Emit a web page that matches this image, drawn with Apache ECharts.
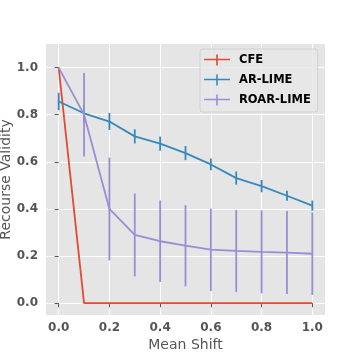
<!DOCTYPE html>
<html><head><meta charset="utf-8">
<script src="https://cdn.jsdelivr.net/npm/echarts@6/dist/echarts.min.js"></script>
<style>html,body{margin:0;padding:0;background:#fff}#c{width:360px;height:360px}</style>
</head><body><div id="c"></div>
<script>
const meanShift = [0, 0.1, 0.2, 0.3, 0.4, 0.5, 0.6, 0.7, 0.8, 0.9, 1.0];
const cfe = [1.0, 0, 0, 0, 0, 0, 0, 0, 0, 0, 0];
const arLime = [0.856, 0.806, 0.771, 0.708, 0.677, 0.637, 0.589, 0.531, 0.497, 0.456, 0.414];
const arLimeErr = [0.037, 0.035, 0.036, 0.030, 0.030, 0.030, 0.025, 0.028, 0.026, 0.021, 0.022];
const roarLime = [1.0, 0.80, 0.40, 0.290, 0.263, 0.244, 0.227, 0.222, 0.218, 0.215, 0.210];
const roarLimeErr = [0, 0.177, 0.218, 0.176, 0.173, 0.172, 0.175, 0.174, 0.176, 0.176, 0.175];
const tickValues = [0, 0.2, 0.4, 0.6, 0.8, 1.0];
const seriesNames = ['CFE', 'AR-LIME', 'ROAR-LIME'];
const colors = ['#E24A33', '#348ABD', '#988ED5'];

const FONT = 'DejaVu Sans';
const pts = vals => meanShift.map((x, i) => [x, vals[i]]);
const errData = (vals, errs) => meanShift.map((x, i) => [x, vals[i] - errs[i], vals[i] + errs[i]]);

function errSeries(name, vals, errs, color, z) {
  return {
    type: 'custom', name: name + ' err', z: z,
    data: errData(vals, errs),
    encode: { x: 0, y: [1, 2] },
    renderItem: function (params, api) {
      const p1 = api.coord([api.value(0), api.value(1)]);
      const p2 = api.coord([api.value(0), api.value(2)]);
      return { type: 'line', shape: { x1: p1[0], y1: p1[1], x2: p2[0], y2: p2[1] },
               style: { stroke: color, lineWidth: 1.8 } };
    }
  };
}
function lineSeries(i, vals, z) {
  return {
    type: 'line', name: seriesNames[i], data: pts(vals), z: z,
    showSymbol: false, symbol: 'none', animation: false,
    lineStyle: { color: colors[i], width: 1.8 }, itemStyle: { color: colors[i] }
  };
}
const icon = 'path://M0,4.2H26V5.8H0Z M12.2,0H13.8V11H12.2Z';

const axisCommon = {
  type: 'value',
  axisLine: { show: false },
  axisTick: { show: true, length: 4, lineStyle: { color: '#555', width: 1 }, customValues: tickValues },
  axisLabel: { customValues: tickValues, color: '#555', fontFamily: FONT, fontWeight: 'bold', fontSize: 12,
               formatter: v => v.toFixed(1) },
  splitLine: { show: true, lineStyle: { color: '#ffffff', width: 1 } },
  nameLocation: 'middle',
  nameMoveOverlap: false,
  nameTextStyle: { color: '#555', fontFamily: FONT, fontSize: 14 }
};

const chart = echarts.init(document.getElementById('c'), null, { renderer: 'canvas' });
chart.setOption({
  animation: false,
  backgroundColor: '#ffffff',
  grid: { left: 46, right: 35, top: 44, bottom: 45, show: true, backgroundColor: '#E5E5E5', borderWidth: 0,
          containLabel: false, outerBoundsMode: 'none' },
  xAxis: Object.assign({}, axisCommon, { min: -0.05, max: 1.05, name: 'Mean Shift', nameGap: 23,
    axisLabel: Object.assign({}, axisCommon.axisLabel, { margin: 7 }) }),
  yAxis: Object.assign({}, axisCommon, { min: -0.05, max: 1.1, name: 'Recourse Validity', nameGap: 33,
    axisLabel: Object.assign({}, axisCommon.axisLabel, { margin: 8 }) }),
  legend: {
    orient: 'vertical', left: 200, top: 49,
    padding: [5, 7, 6, 4], itemGap: 8, itemWidth: 26, itemHeight: 11,
    backgroundColor: 'rgba(232,232,232,0.85)', borderColor: '#d0d0d0', borderWidth: 1, borderRadius: 3,
    textStyle: { color: '#000', fontFamily: FONT, fontWeight: 'bold', fontSize: 11.5, padding: [0, 0, 0, 4] },
    data: seriesNames.map((n, i) => ({ name: n, icon: icon, itemStyle: { color: colors[i] } }))
  },
  series: [
    lineSeries(0, cfe, 2),
    lineSeries(1, arLime, 3),
    errSeries('AR-LIME', arLime, arLimeErr, colors[1], 4),
    lineSeries(2, roarLime, 5),
    errSeries('ROAR-LIME', roarLime, roarLimeErr, colors[2], 6)
  ]
});
</script></body></html>
